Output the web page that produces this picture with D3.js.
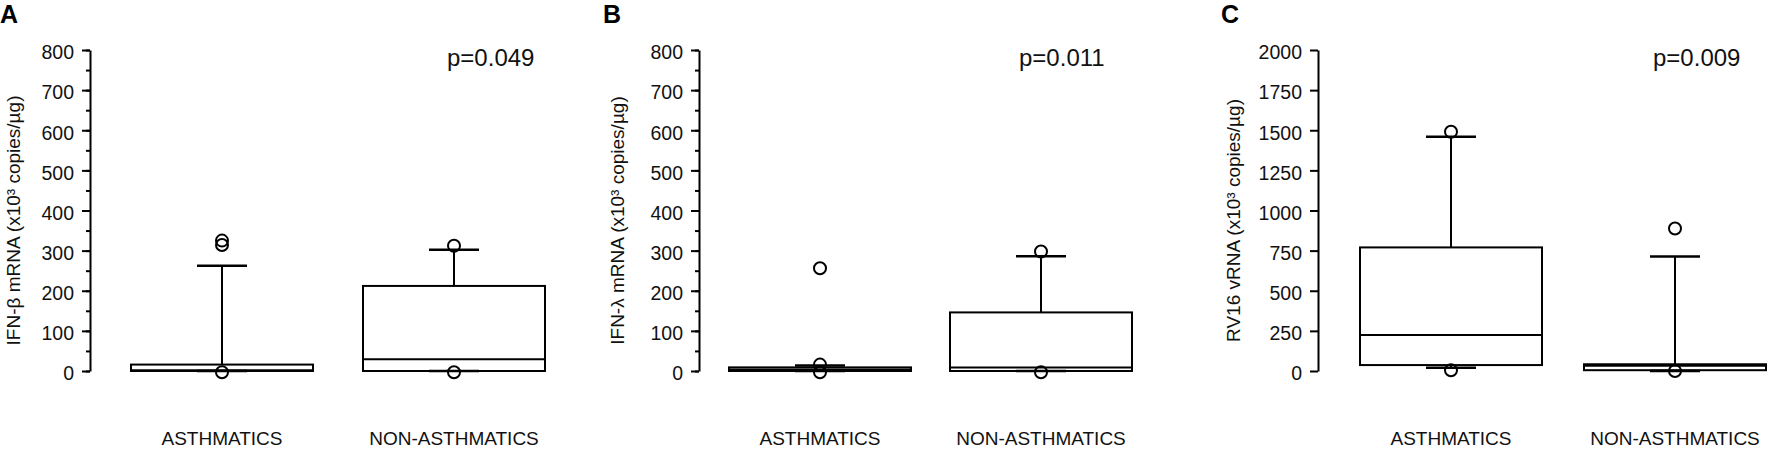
<!DOCTYPE html>
<html>
<head>
<meta charset="utf-8">
<script src="https://cdn.jsdelivr.net/npm/d3@7"></script>
<style>
  html, body { margin: 0; padding: 0; background: #fff; }
  svg { display: block; font-family: "Liberation Sans", Arial, Helvetica, sans-serif; }
</style>
</head>
<body>
<svg id="chart" width="1772" height="451"></svg>
<script>
// ---------- data ----------
const categories = ["ASTHMATICS", "NON-ASTHMATICS"];
const panelLetters = ["A", "B", "C"];
const yTitles = ["IFN-\u03B2 mRNA (x10\u00B3 copies/\u00B5g)", "IFN-\u03BB mRNA (x10\u00B3 copies/\u00B5g)", "RV16 vRNA (x10\u00B3 copies/\u00B5g)"];
const pValues = ["p=0.049", "p=0.011", "p=0.009"];
const yMax = [800, 800, 2000];
const yTickStep = [100, 100, 250];
const yMinorStep = [50, 50, null];

// box stats per panel: [asthmatics, non-asthmatics]
const q1Values      = [[0, 0],   [0, 0],   [37, 5]];
const medianValues  = [[2, 29],  [4, 9],   [224, 33]];
const q3Values      = [[16, 212],[9, 146], [770, 42]];
const whiskerLow    = [[0, 0],   [0, 0],   [20, 0]];
const whiskerHigh   = [[262, 302],[14, 286],[1460, 714]];
const outlierValues = [[[325, 314, -3], [312, -3]],
                       [[256, 16, -3],  [298, -3]],
                       [[1491, 5],      [888, 0]]];

// ---------- layout ----------
const axisX = [90, 699, 1318];
const centerRange = [[222, 454], [820, 1041], [1451, 1675]];
const yTop = 50, yBottom = 371;
const boxW = 182, capW = 50;

const svg = d3.select("#chart");

for (let p = 0; p < 3; p++) {
  const g = svg.append("g");
  const y = d3.scaleLinear().domain([0, yMax[p]]).range([yBottom, yTop]);
  const x = d3.scalePoint().domain(categories).range(centerRange[p]);

  // panel letter
  g.append("text").attr("x", [0, 603, 1221][p]).attr("y", 23)
    .attr("font-size", 25).attr("font-weight", "bold").text(panelLetters[p]);

  // minor ticks
  if (yMinorStep[p]) {
    const minor = d3.range(0, yMax[p] + 1, yMinorStep[p]);
    g.append("g").attr("transform", `translate(${axisX[p]},0)`)
      .call(d3.axisLeft(y).tickValues(minor).tickSize(4).tickFormat(""))
      .call(a => a.select(".domain").remove())
      .call(a => a.selectAll("line").attr("stroke", "#000").attr("stroke-width", 2));
  }
  // major axis
  const major = d3.range(0, yMax[p] + 1, yTickStep[p]);
  g.append("g").attr("transform", `translate(${axisX[p]},0)`)
    .call(d3.axisLeft(y).tickValues(major).tickSize(8).tickSizeOuter(0).tickPadding(8).tickFormat(d3.format("d")))
    .call(a => a.select(".domain").attr("stroke", "#000").attr("stroke-width", 2))
    .call(a => a.selectAll("line").attr("stroke", "#000").attr("stroke-width", 2))
    .call(a => a.selectAll("text").attr("font-size", 19.5).attr("fill", "#111").attr("dy", "0.45em")
      .attr("font-family", "'Liberation Sans', Arial, sans-serif"));

  // y title
  const tx = [13, 617, 1233][p];
  g.append("text")
    .attr("transform", `translate(${tx},${(yTop + yBottom) / 2 + 10}) rotate(-90)`)
    .attr("text-anchor", "middle").attr("dominant-baseline", "central")
    .attr("font-size", 19).attr("fill", "#111").text(yTitles[p]);

  // p value
  g.append("text").attr("x", [447, 1019, 1653][p]).attr("y", 66)
    .attr("font-size", 24).attr("fill", "#111").text(pValues[p]);

  // boxes
  categories.forEach((c, i) => {
    const cx = x(c);
    const bg = g.append("g");
    // whisker lines
    bg.append("line").attr("x1", cx).attr("x2", cx)
      .attr("y1", y(q3Values[p][i])).attr("y2", y(whiskerHigh[p][i]))
      .attr("stroke", "#000").attr("stroke-width", 2);
    bg.append("line").attr("x1", cx).attr("x2", cx)
      .attr("y1", y(q1Values[p][i])).attr("y2", y(whiskerLow[p][i]))
      .attr("stroke", "#000").attr("stroke-width", 2);
    // caps
    [whiskerHigh[p][i], whiskerLow[p][i]].forEach(v => {
      bg.append("line").attr("x1", cx - capW / 2).attr("x2", cx + capW / 2)
        .attr("y1", y(v)).attr("y2", y(v))
        .attr("stroke", "#000").attr("stroke-width", 2.5);
    });
    // box
    bg.append("rect").attr("x", cx - boxW / 2).attr("width", boxW)
      .attr("y", y(q3Values[p][i])).attr("height", y(q1Values[p][i]) - y(q3Values[p][i]))
      .attr("fill", "none").attr("stroke", "#000").attr("stroke-width", 2);
    // median
    bg.append("line").attr("x1", cx - boxW / 2).attr("x2", cx + boxW / 2)
      .attr("y1", y(medianValues[p][i])).attr("y2", y(medianValues[p][i]))
      .attr("stroke", "#000").attr("stroke-width", 2);
    // outliers
    bg.selectAll("circle.o").data(outlierValues[p][i]).enter().append("circle")
      .attr("class", "o").attr("cx", cx).attr("cy", d => y(d)).attr("r", 6)
      .attr("fill", "none").attr("stroke", "#000").attr("stroke-width", 2);
    // category label
    g.append("text").attr("x", cx).attr("y", 445).attr("text-anchor", "middle")
      .attr("font-size", 19).attr("fill", "#111").text(c);
  });
}
</script>
</body>
</html>
